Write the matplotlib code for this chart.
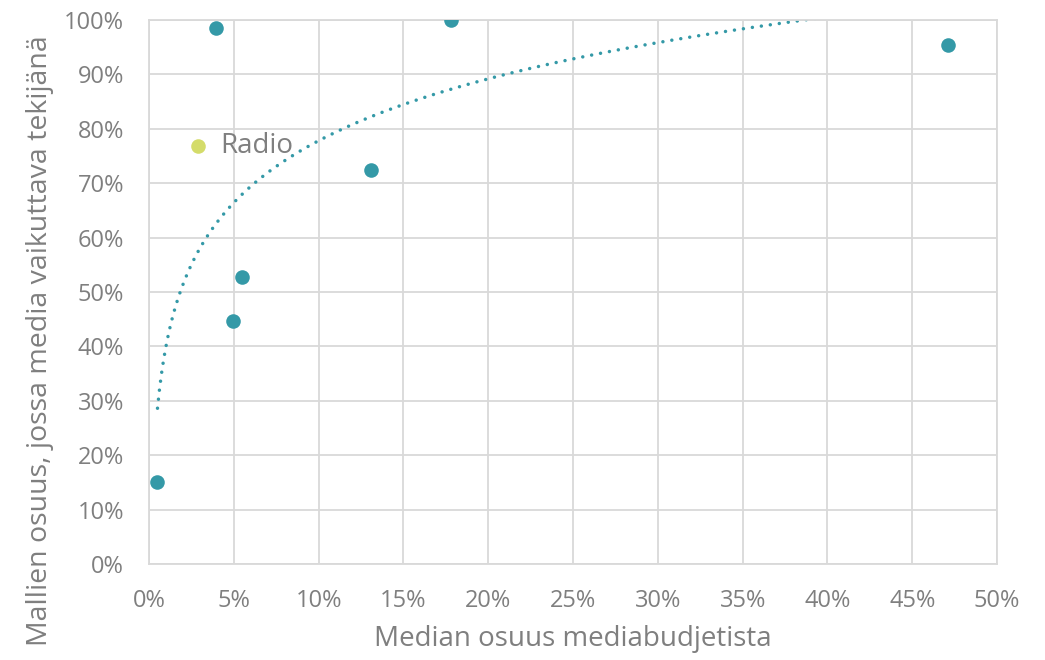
import numpy as np
import matplotlib.pyplot as plt
from matplotlib.ticker import PercentFormatter

# median share of media budget (%) and share of models where the medium was a factor (%)
budget_share = [0.5, 3.95, 17.8, 13.1, 5.5, 4.95, 47.1]
model_share = [15.1, 98.5, 100.0, 72.4, 52.8, 44.7, 95.4]
radio_x = [2.9]
radio_y = [76.8]
radio_label = 'Radio'

x_ticks = [0, 5, 10, 15, 20, 25, 30, 35, 40, 45, 50]
y_ticks = [0, 10, 20, 30, 40, 50, 60, 70, 80, 90, 100]

teal = '#3499a7'
lime = '#d4dc6a'
grey = '#7f7f7f'
gridc = '#d9d9d9'

plt.rcParams['font.family'] = ['Open Sans', 'DejaVu Sans']

fig = plt.figure(figsize=(10.45, 6.6), dpi=100)
ax = fig.add_axes([0.1426, 0.1455, 0.8115, 0.8242])

# logarithmic trendline fitted to all points
all_x = np.array(budget_share + radio_x)
all_y = np.array(model_share + radio_y)
a, b = np.polyfit(np.log(all_x), all_y, 1)
tx = np.linspace(min(all_x), max(all_x), 400)
ax.plot(tx, a * np.log(tx) + b, color=teal, lw=2.5, ls=(0, (0.01, 2.6)),
        dash_capstyle='round', zorder=2)

ax.scatter(budget_share, model_share, s=110, color=teal, zorder=3, lw=0)
ax.scatter(radio_x, radio_y, s=110, color=lime, zorder=3, lw=0)
ax.annotate(radio_label, (radio_x[0], radio_y[0]), xytext=(16, 0),
            textcoords='offset points', va='center', ha='left',
            fontsize=20, color=grey, zorder=4)

ax.set_xlim(0, 50)
ax.set_ylim(0, 100)
ax.set_xticks(x_ticks)
ax.set_yticks(y_ticks)
ax.xaxis.set_major_formatter(PercentFormatter(decimals=0))
ax.yaxis.set_major_formatter(PercentFormatter(decimals=0))
ax.grid(True, color=gridc, lw=1.3)
ax.set_axisbelow(True)
for s in ax.spines.values():
    s.set_color(gridc)
    s.set_linewidth(1.3)
ax.tick_params(length=0, labelsize=17, colors=grey, pad=18)

ax.set_xlabel('Median osuus mediabudjetista', fontsize=20, color=grey,
              labelpad=9)
ax.set_ylabel('Mallien osuus, jossa media vaikuttava tekijänä', fontsize=20.5,
              color=grey)
ax.yaxis.set_label_coords(-0.112, 0.41)

fig.savefig('out.png', dpi=100)
